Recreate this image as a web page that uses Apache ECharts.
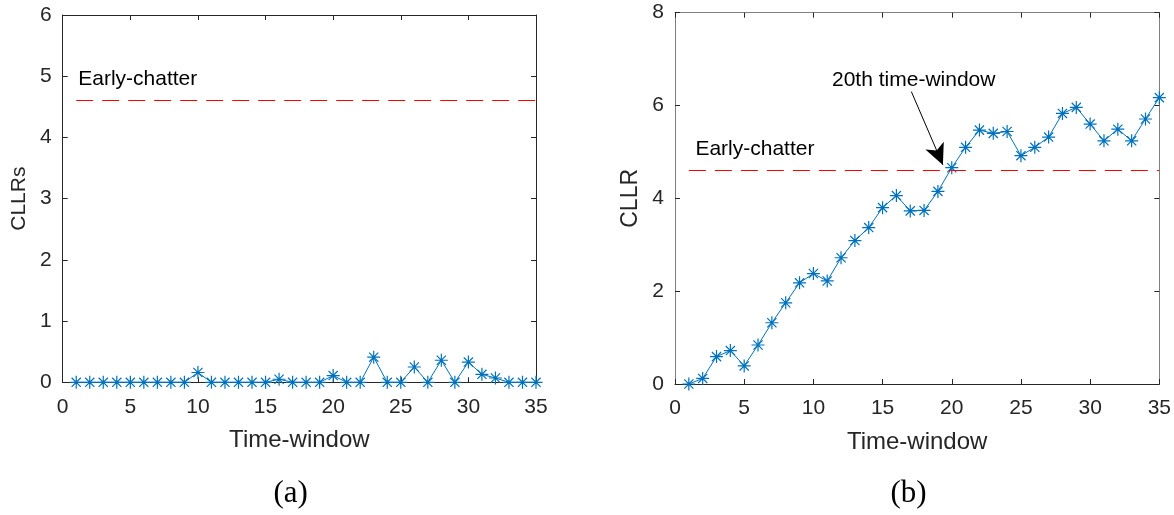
<!DOCTYPE html>
<html>
<head>
<meta charset="utf-8">
<script src="https://cdn.jsdelivr.net/npm/echarts@6/dist/echarts.min.js"></script>
<style>
html,body{margin:0;padding:0;background:#fff;}
#chart{width:1174px;height:515px;}
</style>
</head>
<body>
<div id="chart"></div>
<script>
// ---- data ----
const timeWindows = [1,2,3,4,5,6,7,8,9,10,11,12,13,14,15,16,17,18,19,20,21,22,23,24,25,26,27,28,29,30,31,32,33,34,35];
const cllrsA = [0,0,0,0,0,0,0,0,0,0.16,0,0,0,0,0,0.05,0,0,0,0.11,0,0,0.41,0,0,0.25,0,0.36,0,0.33,0.13,0.07,0,0,0];
const cllrB = [0,0.12,0.59,0.72,0.39,0.84,1.32,1.75,2.18,2.38,2.22,2.72,3.09,3.37,3.80,4.06,3.73,3.74,4.15,4.66,5.10,5.47,5.40,5.44,4.92,5.10,5.32,5.83,5.96,5.60,5.24,5.49,5.24,5.71,6.17];
const threshold = 4.6;
const thresholdLabel = 'Early-chatter';
const arrowLabel = '20th time-window';
const xTitle = 'Time-window';
const yTitleA = 'CLLRs';
const yTitleB = 'CLLR';
const panelLabels = ['(a)', '(b)'];

const BLUE = '#0072BD';
const DARK = '#262626';
const GREY = '#808080';
const FONT = '"Liberation Sans", Arial, sans-serif';
const SERIF = '"Liberation Serif", "Times New Roman", serif';
const star = 'path://M0,6 L12,6 M6,0 L6,12 M1.76,1.76 L10.24,10.24 M1.76,10.24 L10.24,1.76';

const pairs = (vals) => timeWindows.map((t, i) => [t, vals[i]]);

function xAxes(grid, lineColorBottom, lineColorTop) {
  return [
    {
      gridIndex: grid, type: 'value', min: 0, max: 35, interval: 5,
      position: 'bottom',
      name: xTitle, nameLocation: 'middle', nameGap: 46,
      nameTextStyle: {fontFamily: FONT, fontSize: 24, color: DARK},
      axisLine: {onZero: false, lineStyle: {color: lineColorBottom, width: 1}},
      axisTick: {inside: true, length: 5, lineStyle: {color: DARK}},
      axisLabel: {fontFamily: FONT, fontSize: 21, color: DARK, margin: 14},
      splitLine: {show: false}
    },
    {
      gridIndex: grid, type: 'value', min: 0, max: 35, interval: 5,
      position: 'top',
      axisLine: {onZero: false, lineStyle: {color: lineColorTop, width: 1}},
      axisTick: {inside: true, length: 5, lineStyle: {color: DARK}},
      axisLabel: {show: false},
      splitLine: {show: false}
    }
  ];
}
function yAxes(grid, max, interval, title, titleSize, lineColor) {
  return [
    {
      gridIndex: grid, type: 'value', min: 0, max: max, interval: interval,
      position: 'left',
      name: title, nameLocation: 'middle', nameGap: 33, nameRotate: 90,
      nameTextStyle: {fontFamily: FONT, fontSize: titleSize, color: DARK},
      axisLine: {show: true, onZero: false, lineStyle: {color: lineColor, width: 1}},
      axisTick: {show: true, inside: true, length: 5, lineStyle: {color: DARK}},
      axisLabel: {fontFamily: FONT, fontSize: 21, color: DARK, margin: 11},
      splitLine: {show: false}
    },
    {
      gridIndex: grid, type: 'value', min: 0, max: max, interval: interval,
      position: 'right',
      axisLine: {show: true, onZero: false, lineStyle: {color: lineColor, width: 1}},
      axisTick: {show: true, inside: true, length: 5, lineStyle: {color: DARK}},
      axisLabel: {show: false},
      splitLine: {show: false}
    }
  ];
}

function textPoint(x, y, text) {
  return {
    coord: [x, y], symbol: 'circle', symbolSize: 1,
    itemStyle: {color: 'rgba(0,0,0,0)'},
    label: {show: true, position: 'right', distance: 0, formatter: text,
      fontFamily: FONT, fontSize: 21, color: '#000'}
  };
}
const redDash = {color: '#FF0000', type: [17, 9], width: 1.2};

const seriesStyle = {
  type: 'line', showAllSymbol: true, symbol: star, symbolSize: 13,
  lineStyle: {color: BLUE, width: 1},
  itemStyle: {color: BLUE, borderColor: BLUE, borderWidth: 1.2},
  animation: false, z: 3
};

const chart = echarts.init(document.getElementById('chart'), null, {renderer: 'canvas'});
chart.setOption({
  backgroundColor: '#fff',
  animation: false,
  grid: [
    {left: 62.7, top: 15, right: 1174 - 536, bottom: 515 - 382.3},
    {left: 675, top: 12.7, right: 1174 - 1160, bottom: 515 - 384}
  ],
  xAxis: [...xAxes(0, DARK, DARK), ...xAxes(1, DARK, GREY)],
  yAxis: [...yAxes(0, 6, 1, yTitleA, 21, DARK), ...yAxes(1, 8, 2, yTitleB, 23, GREY)],
  graphic: [
    {type: 'text', left: 273.5, top: 478, style: {text: panelLabels[0], fontFamily: SERIF, fontSize: 31, fill: '#000'}},
    {type: 'text', left: 890.5, top: 478, style: {text: panelLabels[1], fontFamily: SERIF, fontSize: 31, fill: '#000'}}
  ],
  series: [
    Object.assign({}, seriesStyle, {
      name: 'a', xAxisIndex: 0, yAxisIndex: 0, data: pairs(cllrsA),
      markLine: {
        silent: true, symbol: 'none', animation: false, label: {show: false},
        lineStyle: redDash,
        data: [[{coord: [1, threshold]}, {coord: [35, threshold]}]]
      },
      markPoint: {silent: true, animation: false, data: [textPoint(1.11, 4.95, thresholdLabel)]}
    }),
    Object.assign({}, seriesStyle, {
      name: 'b', xAxisIndex: 2, yAxisIndex: 2, data: pairs(cllrB),
      markLine: {
        silent: true, animation: false, label: {show: false},
        data: [
          [{coord: [1, threshold], symbol: 'none', lineStyle: redDash},
           {coord: [35, threshold], symbol: 'none'}],
          [{coord: [17.08, 6.30], symbol: 'none', lineStyle: {color: '#000', type: 'solid', width: 1}},
           {coord: [19.36, 4.72], symbol: 'arrow', symbolSize: [15, 21]}]
        ]
      },
      markPoint: {silent: true, animation: false, data: [
        textPoint(1.44, 5.05, thresholdLabel),
        textPoint(11.31, 6.54, arrowLabel)
      ]}
    })
  ]
});
</script>
</body>
</html>
